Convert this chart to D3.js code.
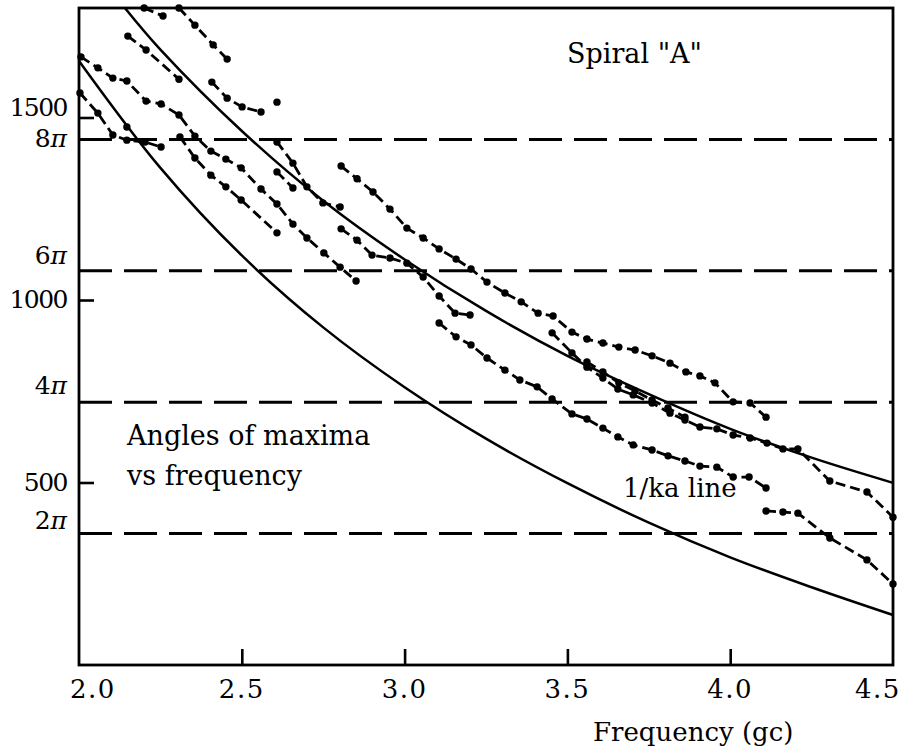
<!DOCTYPE html>
<html><head><meta charset="utf-8">
<script src="https://cdn.jsdelivr.net/npm/d3@7"></script>
<style>body{margin:0;background:#fff}svg{display:block}</style>
</head><body>
<svg id="c" width="904" height="754"></svg>
<script>
// ---------- data (frequency in gc, angle in degrees) ----------
const freqTicks = [2.0, 2.5, 3.0, 3.5, 4.0, 4.5];
const freqTickLabels = ["2.0", "2.5", "3.0", "3.5", "4.0", "4.5"];
const degTicks = [500, 1000, 1500];
const degTickLabels = ["500", "1000", "1500"];
const piLevels = [360, 720, 1080, 1440];
const piLabels = ["2", "4", "6", "8"];

// theoretical solid curves
const upperCurveF = [2.141, 2.25, 2.5, 2.75, 3.0, 3.25, 3.5, 3.75, 4.0, 4.25, 4.5];
const upperCurveD = [1800, 1686, 1463, 1272, 1111, 970, 847, 742, 647, 568, 499];
const lowerCurveF = [2.0, 2.25, 2.5, 2.75, 3.0, 3.25, 3.5, 3.75, 4.0, 4.25, 4.5];
const lowerCurveD = [1655, 1362, 1122, 925, 761, 620, 498, 390, 295, 213, 137];

// measured maxima (frequency, angle)
const seriesA = [[2.200, 1800], [2.258, 1778]];
const seriesB = [[2.307, 1800], [2.356, 1753], [2.412, 1699], [2.455, 1660]];
const seriesC = [[2.150, 1723], [2.206, 1685], [2.307, 1605]];
const seriesD = [[2.408, 1597], [2.455, 1553], [2.501, 1529], [2.559, 1515]];
const seriesE = [[2.608, 1542]];
const seriesF = [[2.006, 1666], [2.058, 1636], [2.104, 1608], [2.147, 1600], [2.206, 1545], [2.252, 1537],
  [2.307, 1507], [2.356, 1449], [2.405, 1408], [2.451, 1386], [2.498, 1362], [2.559, 1304], [2.608, 1263],
  [2.657, 1208], [2.700, 1170], [2.752, 1129], [2.802, 1090], [2.851, 1052]];
const seriesG = [[2.003, 1567], [2.058, 1512], [2.104, 1452], [2.147, 1438], [2.203, 1433], [2.252, 1419]];
const seriesG2 = [[2.147, 1474]];
const seriesH = [[2.310, 1447], [2.356, 1389], [2.405, 1342], [2.451, 1310], [2.498, 1274], [2.608, 1184]];
const seriesI = [[2.608, 1433], [2.657, 1375], [2.700, 1310], [2.749, 1266], [2.802, 1255]];
const seriesJ = [[2.608, 1351], [2.657, 1307]];
const seriesK = [[2.805, 1367], [2.854, 1332], [2.903, 1296], [2.955, 1249], [3.007, 1197], [3.057, 1170],
  [3.106, 1140], [3.158, 1112], [3.204, 1085], [3.253, 1049], [3.308, 1019], [3.358, 995], [3.410, 964],
  [3.456, 956], [3.514, 912], [3.560, 893], [3.609, 882], [3.658, 871], [3.708, 863], [3.760, 847],
  [3.815, 827], [3.864, 803], [3.907, 792], [3.953, 773], [4.009, 721], [4.061, 718], [4.110, 679]];
const seriesL = [[2.805, 1195], [2.854, 1164], [2.900, 1123], [2.955, 1115], [3.007, 1101], [3.057, 1063],
  [3.106, 1011], [3.155, 964], [3.201, 959]];
const seriesM = [[3.106, 937], [3.158, 899], [3.204, 877], [3.253, 841], [3.308, 808], [3.354, 781],
  [3.407, 762], [3.453, 729], [3.514, 688], [3.560, 674], [3.609, 649], [3.655, 625], [3.702, 603],
  [3.760, 589], [3.809, 573], [3.861, 559], [3.907, 545], [3.959, 542], [4.009, 515], [4.058, 515], [4.110, 485]];
const seriesN = [[4.110, 422], [4.162, 419], [4.208, 416], [4.306, 348], [4.420, 288], [4.500, 222]];
const seriesO = [[3.453, 910], [3.514, 855], [3.560, 816], [3.609, 786], [3.655, 756], [3.702, 740],
  [3.760, 718], [3.815, 690], [3.861, 671], [3.907, 652], [3.959, 647], [4.009, 630], [4.061, 622],
  [4.113, 608], [4.162, 592], [4.208, 592], [4.306, 504], [4.420, 474], [4.500, 405]];
const seriesP = [[3.560, 830], [3.609, 803], [3.658, 773], [3.708, 751], [3.760, 726], [3.809, 704], [3.861, 679]];

const measured = [seriesA, seriesB, seriesC, seriesD, seriesE, seriesF, seriesG, seriesG2, seriesH,
  seriesI, seriesJ, seriesK, seriesL, seriesM, seriesN, seriesO, seriesP];

// ---------- drawing ----------
const svg = d3.select("#c");
const serif = "'DejaVu Serif', 'Liberation Serif', serif";
const x = d3.scaleLinear().domain([2.0, 4.5]).range([79, 893]);
const y = d3.scaleLinear().domain([0, 1800]).range([665, 8]);

svg.append("rect").attr("width", 904).attr("height", 754).attr("fill", "#fff");

// reference n*pi dashed lines
svg.append("g").selectAll("line").data(piLevels).join("line")
  .attr("x1", x(2.0)).attr("x2", x(4.5))
  .attr("y1", d => y(d)).attr("y2", d => y(d))
  .attr("stroke", "#000").attr("stroke-width", 3)
  .attr("stroke-dasharray", "33,12");

// solid curves
const curveLine = d3.line().x(d => x(d[0])).y(d => y(d[1])).curve(d3.curveCatmullRom);
[[upperCurveF, upperCurveD], [lowerCurveF, lowerCurveD]].forEach(([fs, ds]) => {
  svg.append("path").datum(fs.map((f, i) => [f, ds[i]]))
    .attr("d", curveLine).attr("fill", "none")
    .attr("stroke", "#000").attr("stroke-width", 2.5);
});

// measured series
const segLine = d3.line().x(d => x(d[0])).y(d => y(d[1]));
const gData = svg.append("g");
measured.forEach(s => {
  if (s.length > 1) {
    gData.append("path").datum(s).attr("d", segLine).attr("fill", "none")
      .attr("stroke", "#000").attr("stroke-width", 2.8)
      .attr("stroke-dasharray", "10,5");
  }
  gData.selectAll(null).data(s).join("circle")
    .attr("cx", d => x(d[0])).attr("cy", d => y(d[1])).attr("r", 3.7).attr("fill", "#000");
});

// frame
svg.append("rect").attr("x", x(2.0)).attr("y", y(1800))
  .attr("width", x(4.5) - x(2.0)).attr("height", y(0) - y(1800))
  .attr("fill", "none").attr("stroke", "#000").attr("stroke-width", 2.8);

// x axis ticks (inward) and labels
const xAxis = d3.axisBottom(x).tickValues(freqTicks.slice(1, -1)).tickSize(-16).tickFormat("");
const gx = svg.append("g").attr("transform", `translate(0,${y(0)})`).call(xAxis);
gx.select(".domain").remove();
gx.selectAll(".tick line").attr("stroke", "#000").attr("stroke-width", 2.6);
const xLabelNudge = [14, 0, 0, 0, 0, -15];
svg.append("g").selectAll("text").data(freqTicks).join("text")
  .attr("x", (d, i) => x(d) + xLabelNudge[i]).attr("y", y(0) + 33)
  .attr("text-anchor", "middle")
  .attr("font-family", serif).attr("font-size", 26).attr("letter-spacing", 1.5)
  .text((d, i) => freqTickLabels[i]);

// y axis ticks (inward) and labels
const yAxis = d3.axisLeft(y).tickValues(degTicks).tickSize(-15).tickFormat("");
const gy = svg.append("g").attr("transform", `translate(${x(2.0)},0)`).call(yAxis);
gy.select(".domain").remove();
gy.selectAll(".tick line").attr("stroke", "#000").attr("stroke-width", 2.6);
const yLabelNudge = [8, 8, -2];
svg.append("g").selectAll("text").data(degTicks).join("text")
  .attr("x", 67).attr("y", (d, i) => y(d) + yLabelNudge[i])
  .attr("text-anchor", "end")
  .attr("font-family", serif).attr("font-size", 25).attr("letter-spacing", -1.5)
  .text((d, i) => degTickLabels[i]);

const piNudge = [-5, -8, -7, 8];
const piText = svg.append("g").selectAll("text").data(piLevels).join("text")
  .attr("x", 67).attr("y", (d, i) => y(d) + piNudge[i])
  .attr("text-anchor", "end")
  .attr("font-family", serif).attr("font-size", 25);
piText.append("tspan").text((d, i) => piLabels[i]);
piText.append("tspan").attr("font-style", "italic").text("\u03C0");

// annotations
const note = (tx, ty, str, fs) => svg.append("text").attr("x", tx).attr("y", ty)
  .attr("font-family", serif).attr("font-size", fs).attr("fill", "#000").text(str);
note(567, 63, "Spiral \"A\"", 27);
note(127, 445, "Angles of maxima", 27);
note(127, 485, "vs frequency", 27);
note(623, 497, "1/ka line", 26);
note(593, 741, "Frequency (gc)", 26);
</script>
</body></html>
